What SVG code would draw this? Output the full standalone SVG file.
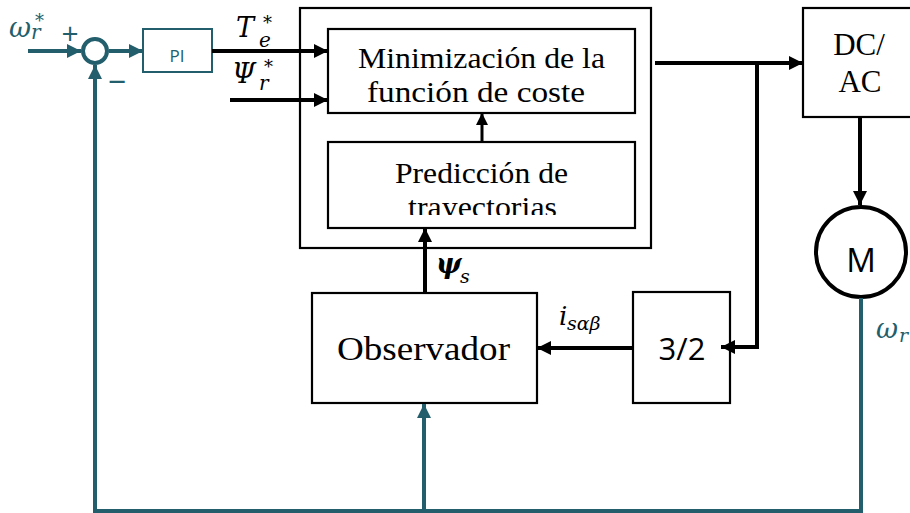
<svg xmlns="http://www.w3.org/2000/svg" width="910" height="513" viewBox="0 0 910 513">
  <style>
    .box { fill: #ffffff; stroke: #000000; stroke-width: 2.2; }
    .tbox { fill: #ffffff; stroke: #225e6b; stroke-width: 2; }
    .ln { fill: none; stroke: #000000; stroke-width: 4; }
    .ln3 { fill: none; stroke: #000000; stroke-width: 3; }
    .tl { fill: none; stroke: #225e6b; stroke-width: 4; }
    .serif { font-family: "Liberation Serif", "Times New Roman", serif; fill: #000000; }
    .sans { font-family: "Open Sans", "Liberation Sans", sans-serif; fill: #000000; }
    .tsans { font-family: "Open Sans", "Liberation Sans", sans-serif; fill: #225e6b; }
    .math { font-family: "DejaVu Serif", "Liberation Serif", serif; font-style: italic; fill: #000000; }
    .tmath { font-family: "DejaVu Serif", "Liberation Serif", serif; font-style: italic; fill: #225e6b; }
    .up { font-style: normal; }
  </style>
  <defs>
    <marker id="ah" viewBox="0 0 14 14" refX="14" refY="7" markerWidth="14" markerHeight="14" markerUnits="userSpaceOnUse" orient="auto">
      <path d="M0,0 L14,7 L0,14 z" fill="#000000"/>
    </marker>
    <marker id="ahs" viewBox="0 0 12 12" refX="12" refY="6" markerWidth="12" markerHeight="12" markerUnits="userSpaceOnUse" orient="auto">
      <path d="M0,0 L12,6 L0,12 z" fill="#000000"/>
    </marker>
    <marker id="aht" viewBox="0 0 14 14" refX="14" refY="7" markerWidth="14" markerHeight="14" markerUnits="userSpaceOnUse" orient="auto">
      <path d="M0,0 L14,7 L0,14 z" fill="#225e6b"/>
    </marker>
    <clipPath id="predClip">
      <rect x="330" y="144" width="303" height="71"/>
    </clipPath>
  </defs>

  <!-- summing junction -->
  <g id="sum">
    <circle cx="95" cy="51" r="12" fill="#ffffff" stroke="#225e6b" stroke-width="4"/>
    <text x="70" y="44" class="tsans" font-size="30" text-anchor="middle">+</text>
    <text x="117" y="93" class="tsans" font-size="32" text-anchor="middle">−</text>
  </g>

  <!-- PI controller -->
  <g id="pi">
    <rect x="143" y="29" width="69" height="43" class="tbox"/>
    <text x="177" y="62" class="tsans" font-size="17" text-anchor="middle">PI</text>
  </g>

  <!-- predictive controller enclosure -->
  <g id="controller">
    <rect x="300" y="8" width="351" height="240" class="box"/>
  </g>

  <g id="minimizacion">
    <rect x="328" y="29" width="307" height="84" class="box"/>
    <text x="481.5" y="68" class="serif" font-size="29" text-anchor="middle" textLength="247" lengthAdjust="spacingAndGlyphs">Minimización de la</text>
    <text x="476" y="102" class="serif" font-size="29" text-anchor="middle" textLength="218" lengthAdjust="spacingAndGlyphs">función de coste</text>
  </g>

  <g id="prediccion">
    <rect x="328" y="142" width="307" height="86" class="box"/>
    <text x="481.5" y="183" class="serif" font-size="29" text-anchor="middle" textLength="173" lengthAdjust="spacingAndGlyphs">Predicción de</text>
    <text x="482.5" y="217" class="serif" font-size="29" text-anchor="middle" textLength="149" lengthAdjust="spacingAndGlyphs" clip-path="url(#predClip)">trayectorias</text>
  </g>

  <g id="observador">
    <rect x="312" y="293" width="225" height="110" class="box"/>
    <text x="423.5" y="360" class="serif" font-size="33" text-anchor="middle" textLength="173" lengthAdjust="spacingAndGlyphs">Observador</text>
  </g>

  <g id="conv32">
    <rect x="633" y="292" width="97" height="111" class="box"/>
    <text x="682" y="360" class="sans" font-size="31" text-anchor="middle">3/2</text>
  </g>

  <g id="dcac">
    <rect x="803" y="8" width="112" height="109" class="box"/>
    <text x="859" y="55" class="serif" font-size="31" text-anchor="middle">DC/</text>
    <text x="860" y="92" class="serif" font-size="31" text-anchor="middle">AC</text>
  </g>

  <g id="motor">
    <circle cx="861" cy="252" r="45" fill="#ffffff" stroke="#000000" stroke-width="4"/>
    <text x="861" y="272" class="sans" font-size="33" text-anchor="middle">M</text>
  </g>

  <!-- connectors -->
  <g id="connectors">
    <path d="M28,51 L81,51" class="tl" marker-end="url(#aht)"/>
    <path d="M109,51 L143,51" class="tl" marker-end="url(#aht)"/>
    <path d="M861,298 L861,511 L95,511 L95,65" class="tl" marker-end="url(#aht)"/>
    <path d="M424,511 L424,404" class="tl" marker-end="url(#aht)"/>

    <path d="M212,51 L328,51" class="ln" marker-end="url(#ah)"/>
    <path d="M230,100 L328,100" class="ln" marker-end="url(#ah)"/>
    <path d="M482,142 L482,113" class="ln3" marker-end="url(#ahs)"/>
    <path d="M425,293 L425,228" class="ln" marker-end="url(#ah)"/>
    <path d="M655,63 L803,63" class="ln" marker-end="url(#ah)"/>
    <path d="M757,63 L757,347 L721,347" class="ln" marker-end="url(#ah)"/>
    <path d="M633,348 L537,348" class="ln" marker-end="url(#ah)"/>
    <path d="M860,117 L860,205" class="ln" marker-end="url(#ah)"/>
  </g>

  <!-- signal labels (base, subscript, superscript) -->
  <g id="labels">
    <text class="tmath"><tspan x="9" y="37" font-size="27">ω</tspan><tspan x="31" y="39" font-size="20">r</tspan><tspan x="35" y="27" font-size="18" class="up">*</tspan></text>

    <text class="math"><tspan x="236" y="37" font-size="27">T</tspan><tspan x="259" y="47" font-size="20">e</tspan><tspan x="263" y="29" font-size="18" class="up">*</tspan></text>

    <text class="math"><tspan x="232" y="83" font-size="27">Ψ</tspan><tspan x="259" y="90" font-size="20">r</tspan><tspan x="264" y="73" font-size="18" class="up">*</tspan></text>

    <text class="math"><tspan x="436" y="273" font-size="27" font-weight="bold">ψ</tspan><tspan x="460" y="283" font-size="19">s</tspan></text>

    <text class="math"><tspan x="559" y="325" font-size="26">i</tspan><tspan x="567" y="330" font-size="19">sαβ</tspan></text>

    <text class="tmath"><tspan x="876" y="338" font-size="27">ω</tspan><tspan x="899" y="342" font-size="19">r</tspan></text>
  </g>
</svg>
